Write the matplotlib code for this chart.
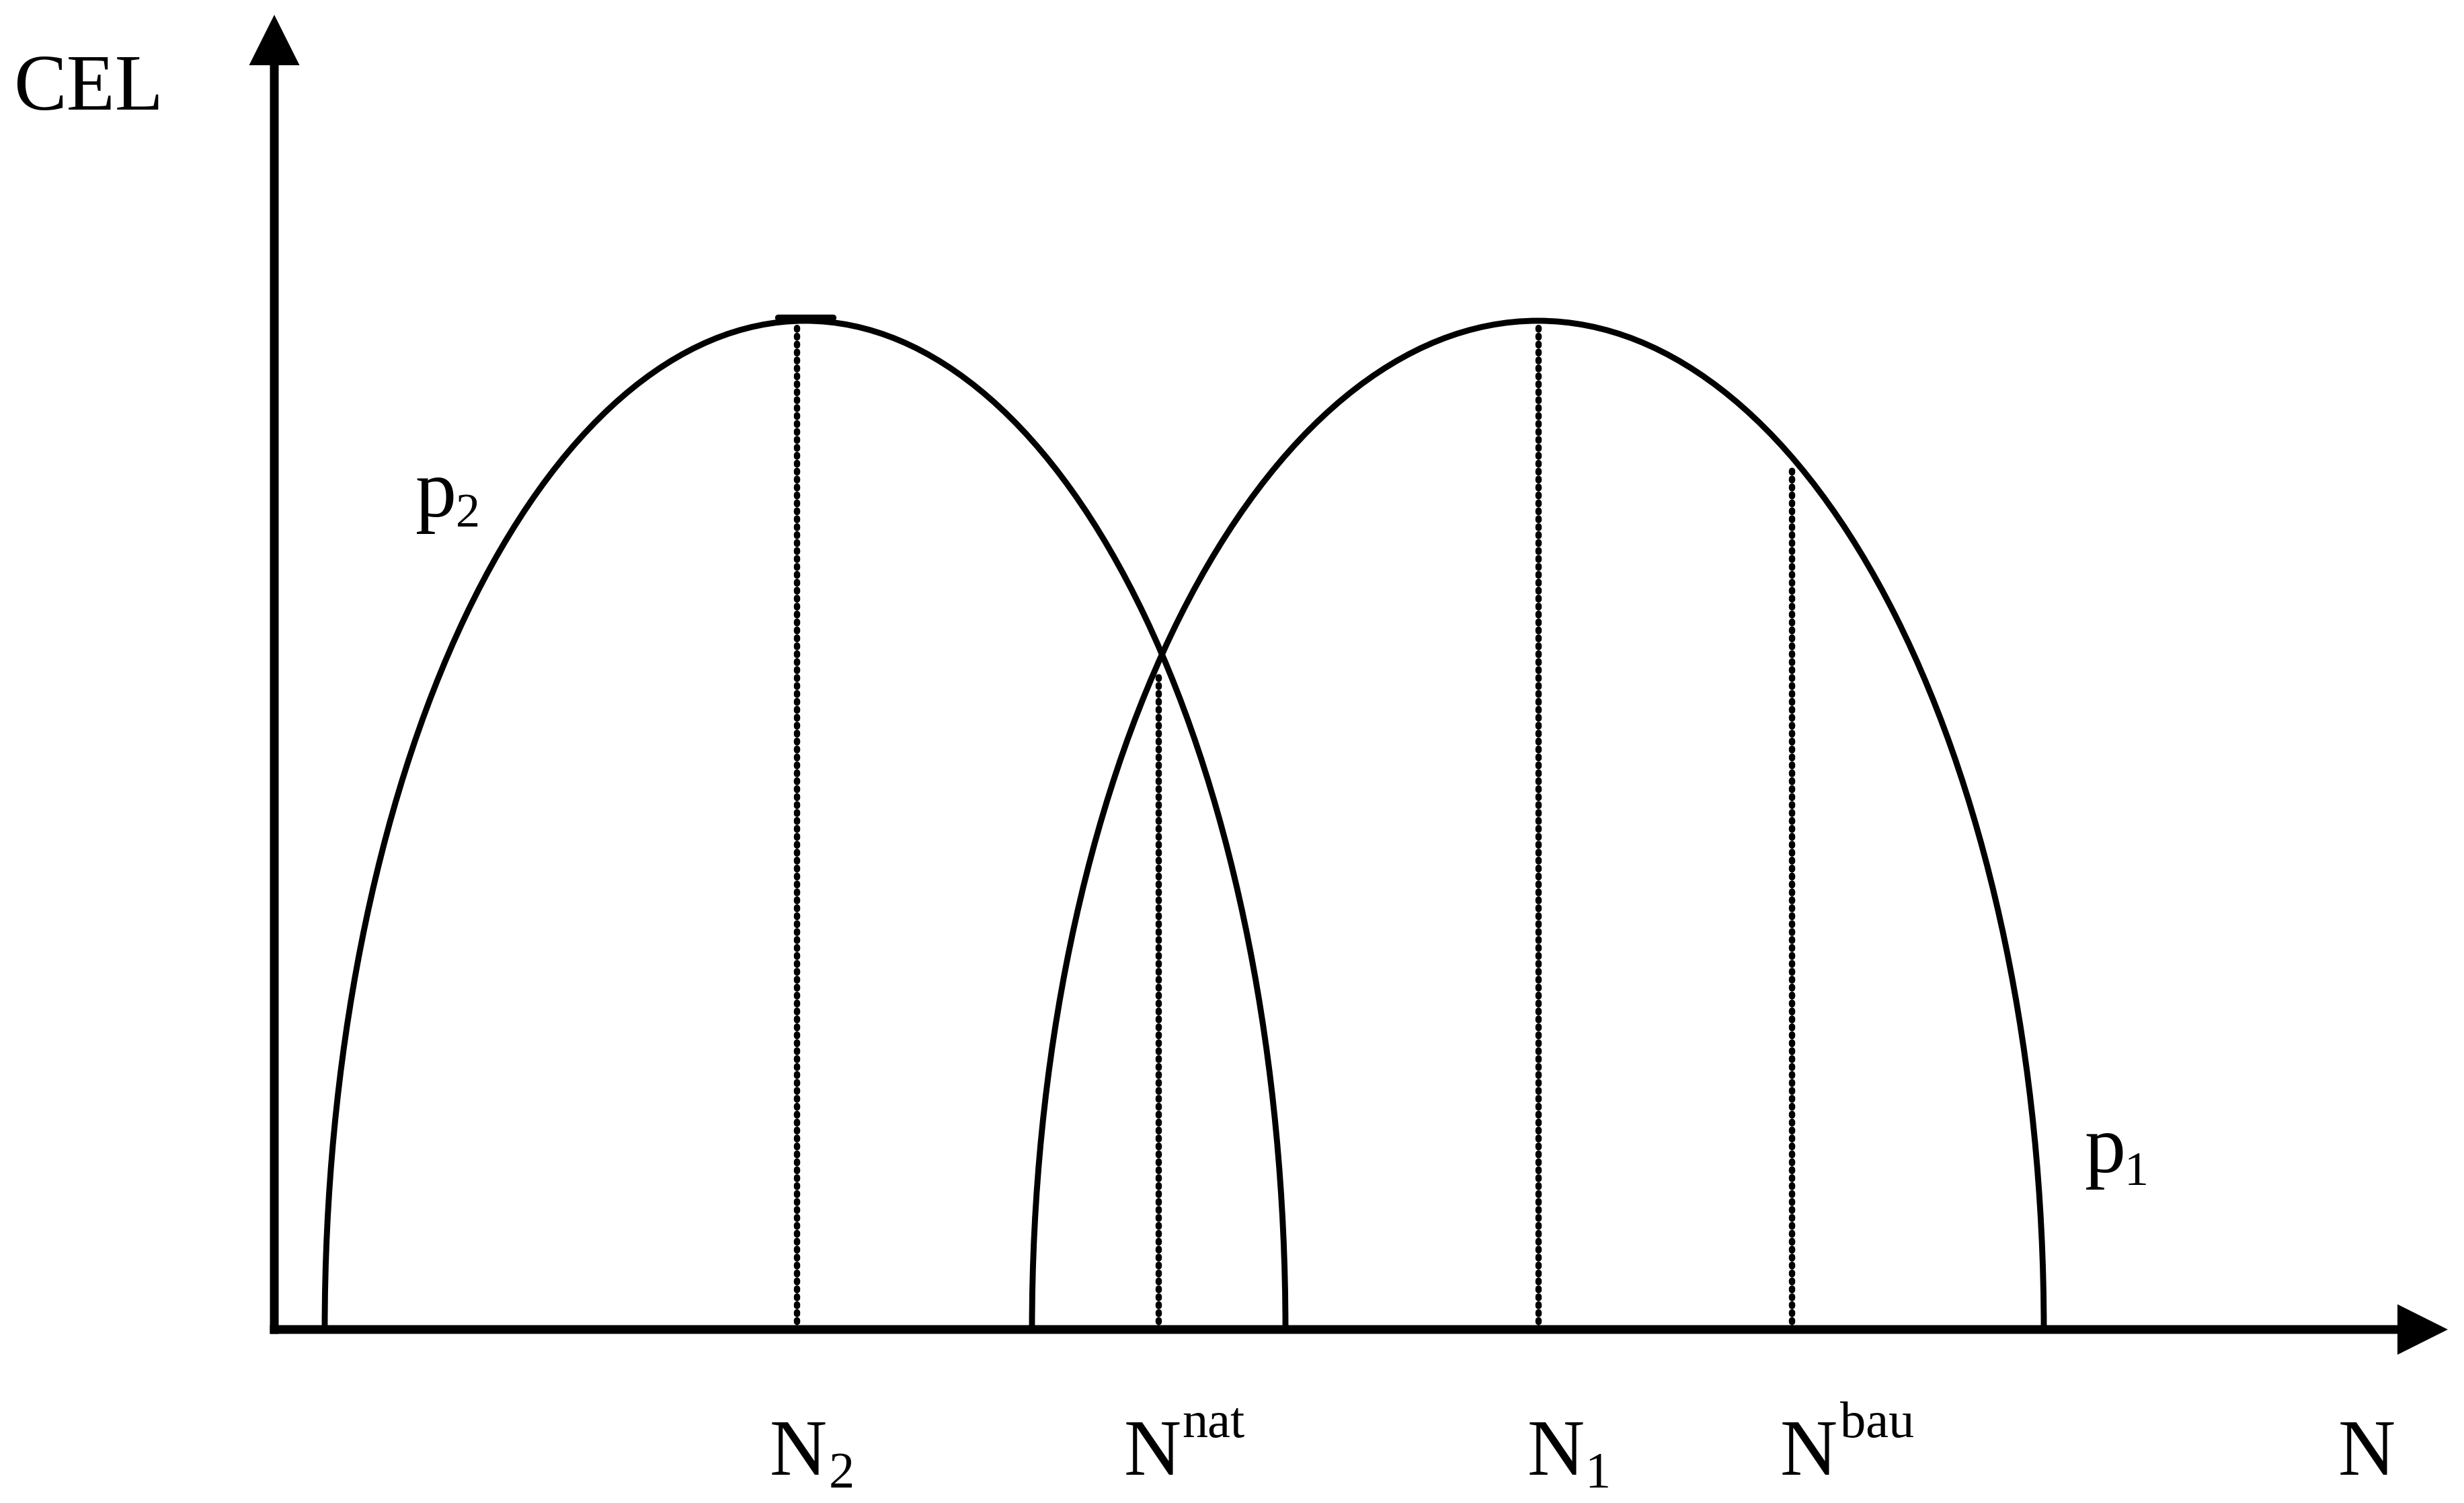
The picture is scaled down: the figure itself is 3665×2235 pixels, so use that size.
import numpy as np
import matplotlib
matplotlib.use("Agg")
import matplotlib.pyplot as plt
from matplotlib.patches import Arc

plt.rcParams['font.family'] = ['Liberation Serif', 'DejaVu Serif']

# ---- data (x: N, y: CEL; arbitrary units) ----
curve_labels = ['p2', 'p1']
curve_left = [7.5, 112.7]       # N where each curve meets the axis (left)
curve_right = [150.4, 263.2]    # N where each curve meets the axis (right)
curve_peak = [150.0, 150.0]     # maximum CEL of each curve

marker_names = ['N2', 'Nnat', 'N1', 'Nbau']
marker_x = [77.7, 131.5, 188.0, 225.7]
marker_top = [149.6, 97.4, 149.6, 128.3]

peak_bar_x = [74.9, 83.1]
peak_bar_y = 150.5

x_axis_end = 323.3
y_axis_end = 195.5

# ---- figure ----
W, H, DPI = 3666, 2235, 100
fig = plt.figure(figsize=(W / DPI, H / DPI), dpi=DPI)
ax = fig.add_axes([0, 0, 1, 1])
ORIGIN_PX = (408, 1977)
SCALE = 10.0  # pixels per data unit
ax.set_xlim(-ORIGIN_PX[0] / SCALE, (W - ORIGIN_PX[0]) / SCALE)
ax.set_ylim(-(H - ORIGIN_PX[1]) / SCALE, ORIGIN_PX[1] / SCALE)
ax.axis('off')

def px(x, y):
    """convert figure pixel position (from top-left) to data coords (layout only)"""
    return (x - ORIGIN_PX[0]) / SCALE, (ORIGIN_PX[1] - y) / SCALE

# axes arrows
aw = 1.3
ax.arrow(-aw / 2, 0, x_axis_end + aw / 2, 0, width=aw, head_width=7.5, head_length=7.5,
         length_includes_head=True, color='black', lw=0, zorder=3)
ax.arrow(0, -aw / 2, 0, y_axis_end + aw / 2, width=aw, head_width=7.5, head_length=7.5,
         length_includes_head=True, color='black', lw=0, zorder=3)

# curves (upper half-ellipses)
for l, r, pk in zip(curve_left, curve_right, curve_peak):
    arc = Arc(((l + r) / 2, 0), width=(r - l), height=2 * pk, theta1=0, theta2=180,
              lw=6.4, color='black', zorder=2)
    ax.add_patch(arc)

# small bar at top of p2
ax.plot(peak_bar_x, [peak_bar_y, peak_bar_y], color='black', lw=6.8,
        solid_capstyle='round', zorder=2)

# dotted vertical lines
for xv, top in zip(marker_x, marker_top):
    ax.plot([xv, xv], [0, top], color='black', lw=6.8,
            linestyle=(0, (0.25, 1.0)), dash_capstyle='round', zorder=1)

# ---- text labels (positions in pixels: left, baseline) ----
MAIN = 85
SCRIPT = 55
PSCRIPT = 52

def txt(x, y, s, size):
    xd, yd = px(x, y)
    ax.text(xd, yd, s, fontsize=size, ha='left', va='baseline', color='black')

txt(20, 163, 'CEL', MAIN)
txt(3478, 2193, 'N', MAIN)

txt(1145, 2193, 'N', MAIN); txt(1233, 2212, '2', SCRIPT)
txt(1672, 2193, 'N', MAIN); txt(1758, 2137, 'nat', SCRIPT)
txt(2272, 2193, 'N', MAIN); txt(2357, 2212, '1', SCRIPT)
txt(2648, 2193, 'N', MAIN); txt(2737, 2137, 'bau', SCRIPT)

txt(618, 768, 'p', 88); txt(678, 783, '2', PSCRIPT)
txt(3101, 1743, 'p', 88); txt(3160, 1762, '1', PSCRIPT)

fig.savefig('out.png', dpi=DPI, facecolor='white')
